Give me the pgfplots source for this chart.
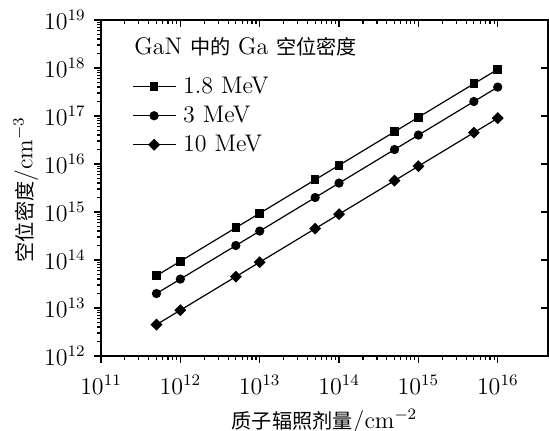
\documentclass[border=0pt,12pt]{standalone}
\usepackage{fontspec}
\usepackage{pgfplots}
\pgfplotsset{compat=1.18}
\usetikzlibrary{calc}
\newfontfamily\cjk[Scale=0.84]{Noto Sans CJK SC}
\newcommand\lf{\fontsize{12}{14}\selectfont}
\begin{document}
\begin{tikzpicture}
\begin{axis}[
  scale only axis,
  width=223.5pt, height=168pt,
  xmode=log, ymode=log,
  xmin=1e11, xmax=4.3e16,
  ymin=1e12, ymax=1e19,
  xtick={1e11,1e12,1e13,1e14,1e15,1e16},
  ytick={1e12,1e13,1e14,1e15,1e16,1e17,1e18,1e19},
  tick align=outside,
  tick pos=left,
  major tick length=3.5pt,
  minor tick length=2pt,
  every tick/.style={black, line width=0.6pt},
  axis line style={line width=0.8pt},
  tick label style={font=\lf},
  xticklabel style={yshift=-2pt},
  xlabel={{\cjk 质子辐照剂量}/cm$^{-2}$},
  ylabel={{\cjk 空位密度}/cm$^{-3}$},
  every axis x label/.style={at={(axis description cs:0.5,-0.197)}, anchor=center},
  every axis y label/.style={at={(axis description cs:-0.168,0.495)}, anchor=center, rotate=90},
  label style={font=\lf},
  legend style={draw=none, fill=none, at={(axis description cs:0.055,0.856)}, anchor=north west, font=\lf, row sep=0.5pt,
    nodes={font=\lf}},
  legend cell align=left,
  legend image code/.code={\draw[mark repeat=2,mark phase=2] plot coordinates {(0pt,0pt) (10.75pt,0pt) (21.5pt,0pt)};\path (23pt,0pt);},
  every axis plot/.append style={black, line width=0.6pt},
  clip=false,
]
\addplot[mark=square*, mark size=1.85pt] coordinates {
(5e11,4.7e13) (1e12,9.4e13) (5e12,4.7e14) (1e13,9.4e14) (5e13,4.7e15)
(1e14,9.4e15) (5e14,4.7e16) (1e15,9.4e16) (5e15,4.7e17) (1e16,9.4e17)};
\addlegendentry{1.8 MeV}
\addplot[mark=*, mark size=2pt] coordinates {
(5e11,2e13) (1e12,4e13) (5e12,2e14) (1e13,4e14) (5e13,2e15)
(1e14,4e15) (5e14,2e16) (1e15,4e16) (5e15,2e17) (1e16,4e17)};
\addlegendentry{3 MeV}
\addplot[mark=square*, mark size=1.8pt, mark options={rotate=45}] coordinates {
(5e11,4.5e12) (1e12,9e12) (5e12,4.5e13) (1e13,9e13) (5e13,4.5e14)
(1e14,9e14) (5e14,4.5e15) (1e15,9e15) (5e15,4.5e16) (1e16,9e16)};
\addlegendentry{10 MeV}
\node[anchor=west, font=\lf] at (axis description cs:0.056,0.92) {GaN {\cjk 中的} Ga {\cjk 空位密度}};
\end{axis}
% top and right inward ticks
\begin{axis}[
  scale only axis,
  width=223.5pt, height=168pt,
  xmode=log, ymode=log,
  xmin=1e11, xmax=4.3e16,
  ymin=1e12, ymax=1e19,
  xtick={1e11,1e12,1e13,1e14,1e15,1e16},
  ytick={1e12,1e13,1e14,1e15,1e16,1e17,1e18,1e19},
  yminorticks=false,
  tick align=inside,
  major tick length=3.5pt,
  minor tick length=2pt,
  xtick pos=right, ytick pos=right,
  xticklabels={}, yticklabels={},
  every tick/.style={black, line width=0.6pt},
  axis line style={line width=0.8pt},
]
\end{axis}
\pgfresetboundingbox
\useasboundingbox ($(current axis.south west)+(-50.5pt,-37.5pt)$) rectangle ($(current axis.north east)+(0.5pt,10pt)$);
\end{tikzpicture}
\end{document}
